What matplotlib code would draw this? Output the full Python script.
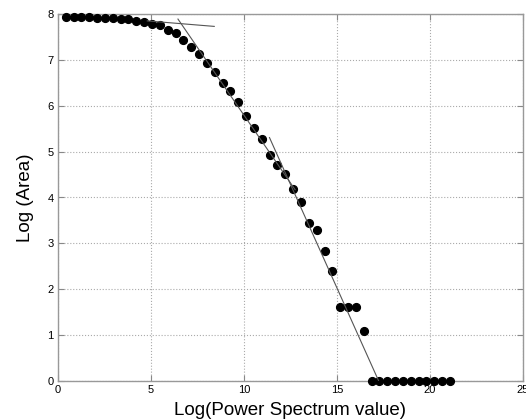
import matplotlib
matplotlib.use("Agg")
import matplotlib.pyplot as plt

plt.rcParams['font.family'] = ['Liberation Sans', 'DejaVu Sans']

log_power = [0.42, 0.84, 1.26, 1.69, 2.11, 2.53, 2.95, 3.37, 3.79, 4.22,
             4.64, 5.06, 5.48, 5.90, 6.32, 6.74, 7.17, 7.59, 8.01, 8.43,
             8.85, 9.27, 9.69, 10.12, 10.54, 10.96, 11.38, 11.80, 12.22, 12.64,
             13.07, 13.49, 13.91, 14.33, 14.75, 15.17, 15.59, 16.02, 16.44, 16.86,
             17.28, 17.70, 18.12, 18.54, 18.97, 19.39, 19.81, 20.23, 20.65, 21.07]
log_area = [7.94, 7.94, 7.94, 7.94, 7.93, 7.93, 7.92, 7.90, 7.90, 7.86,
            7.83, 7.79, 7.76, 7.67, 7.59, 7.45, 7.30, 7.14, 6.93, 6.74,
            6.51, 6.32, 6.08, 5.78, 5.52, 5.28, 4.92, 4.72, 4.51, 4.19,
            3.90, 3.44, 3.30, 2.84, 2.40, 1.60, 1.60, 1.60, 1.09, 0.0,
            0.0, 0.0, 0.0, 0.0, 0.0, 0.0, 0.0, 0.0, 0.0, 0.0]

fit1_x = [4.8, 8.4]
fit1_y = [7.86, 7.74]
fit2_x = [6.45, 12.75]
fit2_y = [7.90, 4.17]
fit3_x = [11.37, 17.23]
fit3_y = [5.31, 0.0]

xticks = [0, 5, 10, 15, 20, 25]
yticks = [0, 1, 2, 3, 4, 5, 6, 7, 8]

fig = plt.figure(figsize=(5.26, 4.19), dpi=100)
ax = fig.add_axes([58/526, 1 - 380.5/419, (523 - 58)/526, (380.5 - 14.5)/419])

ax.plot(log_power, log_area, 'o', color='black', markersize=5.6, zorder=3,
        clip_on=False)
for fx, fy in [(fit1_x, fit1_y), (fit2_x, fit2_y), (fit3_x, fit3_y)]:
    ax.plot(fx, fy, '-', color='#555555', linewidth=0.8, zorder=4)

ax.set_xlim(0, 25)
ax.set_ylim(0, 8)
ax.set_xticks(xticks)
ax.set_yticks(yticks)
ax.grid(True, linestyle=':', color='#aaaaaa', linewidth=0.8)
ax.tick_params(direction='in', length=4, top=True, right=True, labelsize=8,
               color='#888888', pad=3)
for s in ax.spines.values():
    s.set_color('#999999')
    s.set_linewidth(1.0)

ax.set_xlabel('Log(Power Spectrum value)', fontsize=13.5, labelpad=5)
ax.set_ylabel('Log (Area)', fontsize=13.5, labelpad=10)

fig.savefig('out.png', dpi=100)
